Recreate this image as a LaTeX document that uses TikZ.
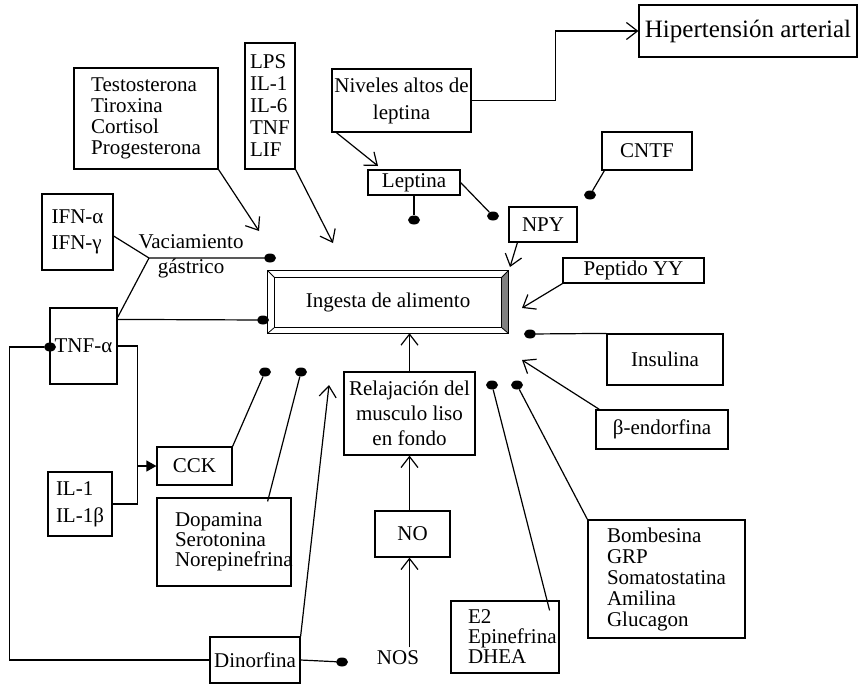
\documentclass[tikz,border=0pt]{standalone}
\usepackage{fontspec}
\setmainfont{Liberation Serif}
\usetikzlibrary{arrows.meta,shapes.geometric,calc}
\begin{document}
\begin{tikzpicture}[x=1pt,y=-1pt,
 every node/.style={font=\fontsize{21}{21}\selectfont},
 box/.style={draw,line width=1.2pt,inner sep=0pt,align=center},
 dotn/.style={ellipse,fill=black,inner sep=0pt,minimum width=12pt,minimum height=9pt},
 lnk/.style={line width=1.2pt},
 arr/.style={lnk,-{Straight Barb[length=11pt,width=17pt]}},
 tri/.style={lnk,-{Triangle[length=10pt,width=11pt]}}]
\useasboundingbox (0,0) rectangle (867,686);

% boxes
\node[box,minimum width=144pt,minimum height=101pt,align=left] (testo) at (146,118.5) {Testosterona\\Tiroxina\\Cortisol\\Progesterona};
\node[box,minimum width=50pt,minimum height=126pt,align=left,font=\fontsize{21}{22}\selectfont] (lps) at (270,106) {LPS\\IL-1\\IL-6\\TNF\\LIF};
\node[box,minimum width=139pt,minimum height=63pt,font=\fontsize{21}{27}\selectfont] (niv) at (401.5,100.5) {Niveles altos de\\leptina};
\node[box,minimum width=218pt,minimum height=52pt,font=\fontsize{25}{25}\selectfont] (hip) at (748,31) {Hipertensión arterial};
\node[box,minimum width=92pt,minimum height=25pt] (lep) at (414,182.5) {Leptina};
\node[box,minimum width=68pt,minimum height=35pt] (npy) at (543,224.5) {NPY};
\node[box,minimum width=90pt,minimum height=38pt] (cntf) at (647,151) {CNTF};
\node[box,minimum width=71pt,minimum height=76pt,align=left,font=\fontsize{21}{26}\selectfont] (ifn) at (77.5,232) {IFN-α\\IFN-γ};
\node[align=center,font=\fontsize{21}{25}\selectfont] (vac) at (191,256) {Vaciamiento\\gástrico};
\node[box,minimum width=67pt,minimum height=76pt] (tnf) at (83.5,346) {TNF-α};
\node[box,minimum width=64pt,minimum height=64pt,align=left,font=\fontsize{21}{27}\selectfont] (il1) at (80,504) {IL-1\\IL-1β};
\node[box,minimum width=75pt,minimum height=38pt] (cck) at (194.5,466) {CCK};
\node[box,minimum width=134pt,minimum height=88pt,align=left,text width=98pt,inner xsep=18pt,font=\fontsize{21}{20}\selectfont] (dopa) at (224,542) {Dopamina\\Serotonina\\\mbox{Norepinefrina}};
\node[box,minimum width=131pt,minimum height=83pt,font=\fontsize{21}{25}\selectfont] (relaj) at (409.5,413.5) {Relajación del\\musculo liso\\en fondo};
\node[box,minimum width=75pt,minimum height=46pt] (no) at (412.5,534) {NO};
\node (nos) at (398,658) {NOS};
\node[box,minimum width=90pt,minimum height=46pt] (dino) at (255,660) {Dinorfina};
\node[box,minimum width=108pt,minimum height=72pt,align=left,text width=74pt,inner xsep=17pt,font=\fontsize{21}{20}\selectfont] (e2) at (505,637) {E2\\\mbox{Epinefrina}\\DHEA};
\node[box,minimum width=157pt,minimum height=118pt,align=left] (bomb) at (666.5,579) {Bombesina\\GRP\\Somatostatina\\Amilina\\Glucagon};
\node[box,minimum width=141pt,minimum height=25pt] (pyy) at (633.5,270.5) {Peptido YY};
\node[box,minimum width=116pt,minimum height=51pt] (ins) at (665,359.5) {Insulina};
\node[box,minimum width=132pt,minimum height=39pt] (bend) at (662,429.5) {β-endorfina};

% central bevelled box
\node[minimum width=240pt,minimum height=62pt,inner sep=0pt] (ing) at (388,302) {Ingesta de alimento};
\fill[black!50] (501,278) -- (508,271) -- (508,333) -- (501,327) -- cycle;
\draw[lnk] (ing.north west) rectangle (ing.south east);
\draw[lnk] ($(ing.north west)+(7,7)$) rectangle ($(ing.south east)+(-7,-6)$);
\draw[line width=0.8pt] (ing.north west) -- ++(7,7);
\draw[line width=0.8pt] (ing.north east) -- ++(-7,7);
\draw[line width=0.8pt] (ing.south west) -- ++(7,-6);
\draw[line width=0.8pt] (ing.south east) -- ++(-7,-6);

% dots
\node[dotn] (d1) at (270,258) {};
\node[dotn] (d2) at (263,320) {};
\node[dotn] (d3) at (265,372) {};
\node[dotn] (d4) at (301,372) {};
\node[dotn] (d5) at (414,220) {};
\node[dotn] (d6) at (493,216) {};
\node[dotn] (d7) at (590,195) {};
\node[dotn] (d8) at (530,334) {};
\node[dotn] (d9) at (492,385) {};
\node[dotn] (d10) at (517,385) {};
\node[dotn] (d11) at (342,662) {};
\node[dotn] (d12) at (50,347) {};

% free ends
\coordinate (t1) at (259,231);
\coordinate (t2) at (333,243);
\coordinate (t3) at (378,166);
\coordinate (t4) at (510,267);
\coordinate (t5) at (522,308);
\coordinate (t6) at (522,360);
\coordinate (t7) at (329,385);
\coordinate (j1) at (149,258);

% connectors
\draw[arr] (testo.south east) -- (t1);
\draw[arr] (lps.south east) -- (t2);
\draw[arr] ($(niv.south west)+(5,0)$) -- (t3);
\draw[arr] (niv.east) -- ++(84,0) |- (hip.west);
\draw[lnk] (lep.south) -- (d5);
\draw[lnk] (lep.east) -- (d6);
\draw[arr] ($(npy.south west)+(9,0)$) -- (t4);
\draw[lnk] ($(cntf.south west)+(3,0)$) -- (d7);
\draw[arr] (pyy.south west) -- (t5);
\draw[lnk] (ins.north west) -- (d8);
\draw[arr] ($(bend.north west)+(4,0)$) -- (t6);
\draw[lnk] (bomb.north west) -- (d10);
\draw[lnk] ($(e2.north east)+(-10,10)$) -- (d9);
\draw[arr] (relaj.north) -- (relaj.north |- ing.south);
\draw[arr] (relaj.south |- no.north) -- (relaj.south);
\draw[arr] (relaj.south |- nos.north) -- (relaj.south |- no.south);
\draw[arr] (dino.north east) -- (t7);
\draw[lnk] (dino.east) -- (d11);
\draw[lnk] (dino.west) -- ++(-200,0) |- (d12);
\draw[tri] (tnf.east) -- ++(20,0) |- (cck.west);
\draw[lnk] (il1.east) -- ++(25,0) -- ++(0,-38);
\draw[lnk] (cck.north east) -- (d3);
\draw[lnk] ($(dopa.north east)+(-24,4)$) -- (d4);
\draw[lnk] ($(ifn.east)+(0,4)$) -- (j1) -- (d1);
\draw[lnk] ($(tnf.north east)+(0,10)$) -- (j1);
\draw[lnk] ($(tnf.north east)+(0,12)$) -- (d2);
\end{tikzpicture}
\end{document}
